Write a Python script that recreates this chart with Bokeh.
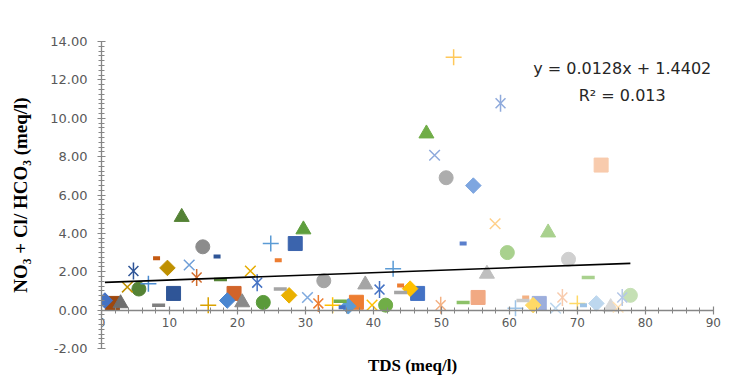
import numpy as np
from bokeh.plotting import figure
from bokeh.models import (ColumnDataSource, Label, Title, FixedTicker,
                          NumeralTickFormatter)
from bokeh.embed import file_html
from bokeh.resources import INLINE

# ---------------- data ----------------
tds = [0.5, 1.6, 2.8, 3.8, 4.7, 5.5, 6.9, 8.1, 8.4, 9.7,
       10.6, 11.8, 12.9, 14.0, 14.9, 15.7, 17.0, 17.5, 18.5, 19.5,
       20.7, 21.9, 22.9, 23.8, 24.9, 26.0, 26.3, 27.6, 28.5, 29.7,
       30.3, 31.9, 32.7, 34.0, 35.4, 35.1, 36.3, 37.5, 38.8, 39.8,
       40.9, 41.8, 42.9, 44.0, 44.0, 45.4, 46.5, 47.8, 49.0, 49.9,
       50.7, 51.8, 53.2, 53.2, 54.7, 55.4, 56.7, 57.9, 58.7, 59.7,
       60.9, 62.4, 62.0, 63.5, 64.4, 65.7, 66.8, 67.8, 68.7, 70.0,
       70.9, 71.6, 72.8, 73.5, 74.9, 76.0, 76.6, 77.8]
ratio = [0.5, 0.35, 0.35, 1.2, 2.04, 1.1, 1.38, 2.7, 0.26, 2.2,
         0.87, 4.85, 2.35, 1.7, 3.3, 0.26, 2.8, 1.6, 0.5, 0.87,
         0.4, 2.04, 1.43, 0.4, 3.47, 2.6, 1.1, 0.77, 3.47, 4.2,
         0.66, 0.35, 1.53, 0.26, 0.15, 0.46, 0.2, 0.41, 1.33, 0.26,
         1.07, 0.26, 2.15, 1.28, 0.92, 1.12, 0.87, 9.2, 8.07, 0.26,
         6.9, 13.18, 3.47, 0.4, 6.49, 0.66, 1.89, 4.5, 10.78, 3.0,
         0.1, 0.66, 0.5, 0.26, 0.35, 4.04, 0.1, 0.66, 2.65, 0.35,
         0.26, 1.7, 0.35, 7.56, 0.15, 0.15, 0.66, 0.77]

trend_slope = 0.0128
trend_intercept = 1.4402
equation_text = "y = 0.0128x + 1.4402"
r2_text = "R\u00b2 = 0.013"

x_ticks = [0, 10, 20, 30, 40, 50, 60, 70, 80, 90]
y_ticks = [-2, 0, 2, 4, 6, 8, 10, 12, 14]
x_title = "TDS (meq/l)"
y_title = "NO\u2083 + Cl/ HCO\u2083 (meq/l)"

# ---------------- styles ----------------
series_colors = [
    "#4472C4", "#9E480E", "#6E6E6E", "#BF9000", "#2F5597", "#548235",
    "#4A8AD0", "#C55A11", "#7F7F7F", "#BF9000", "#2F5597", "#548235",
    "#6F9FD8", "#D06B2C", "#8C8C8C", "#D9A200", "#2F5597", "#548235",
    "#4A86D0", "#D1642A", "#8A8A8A", "#E6AC00", "#4472C4", "#5A9A3A",
    "#5B9BD5", "#ED7D31", "#A5A5A5", "#EAB000", "#3B64AD", "#5E9E3D",
    "#7EA9DE", "#ED7D31", "#A5A5A5", "#FFC000", "#4472C4", "#70AD47",
    "#5B9BD5", "#ED7D31", "#A5A5A5", "#FFC000", "#4472C4", "#70AD47",
    "#5B9BD5", "#ED7D31", "#A5A5A5", "#FFC000", "#4472C4", "#70AD47",
    "#8FAADC", "#F4B183", "#ADADAD", "#FFC85A", "#5A7FCC", "#8CC168",
    "#7EA6E0", "#F1A983", "#BFBFBF", "#FFD08A", "#8FAADC", "#A9D18E",
    "#9DC3E6", "#F4B183", "#C9C9C9", "#FFD966", "#9DAEDC", "#A9D18E",
    "#BDD7EE", "#F8CBAD", "#D0D0D0", "#FFD966", "#9DC3E6", "#A9D18E",
    "#BDD7EE", "#F8CBAD", "#D9D9D9", "#FFE0B3", "#B4C7E7", "#C5E0B4",
]
marker_cycle = ["diamond", "square", "triangle", "x", "star", "circle",
                "plus", "shortdash", "longdash"]

AXIS = "#868686"
TICKTXT = "#595959"

p = figure(width=733, height=379, output_backend="svg", toolbar_location=None,
           x_range=(0, 91.5), y_range=(-2, 14), title=None,
           min_border_left=101, min_border_right=10, min_border_top=41,
           min_border_bottom=26)
p.outline_line_color = None
p.xgrid.visible = False
p.ygrid.visible = False
p.background_fill_color = "white"
p.border_fill_color = "white"

groups = {k: [] for k in marker_cycle}
for i in range(len(tds)):
    groups[marker_cycle[i % len(marker_cycle)]].append(i)

def src(kind):
    idx = groups[kind]
    return ColumnDataSource(dict(x=[tds[i] for i in idx], y=[ratio[i] for i in idx],
                                 c=[series_colors[i] for i in idx]))

p.scatter("x", "y", source=src("square"), marker="square", size=14,
          fill_color="c", line_color="c")
p.scatter("x", "y", source=src("diamond"), marker="square", angle=np.pi / 4,
          size=11, fill_color="c", line_color="c")
p.scatter("x", "y", source=src("triangle"), marker="triangle", size=15,
          fill_color="c", line_color="c")
p.scatter("x", "y", source=src("circle"), marker="circle", size=14,
          fill_color="c", line_color="c")
p.scatter("x", "y", source=src("x"), marker="x", size=15, line_color="c",
          line_width=1.5)
s_star = src("star")
p.scatter("x", "y", source=s_star, marker="x", size=14, line_color="c",
          line_width=1.5)
p.scatter("x", "y", source=s_star, marker="dash", angle=np.pi / 2, size=17,
          line_color="c", line_width=1.5)
p.scatter("x", "y", source=src("plus"), marker="cross", size=16, line_color="c",
          line_width=1.5)
p.scatter("x", "y", source=src("shortdash"), marker="dash", size=7,
          line_color="c", line_width=4)
p.scatter("x", "y", source=src("longdash"), marker="dash", size=13,
          line_color="c", line_width=3.5)

# trendline
tx = [min(tds), max(tds)]
ty = [trend_slope * v + trend_intercept for v in tx]
p.line(tx, ty, line_color="black", line_width=1.6)

# axes
xa = p.xaxis[0]
xa.fixed_location = 0
xa.bounds = (0, 90)
xa.ticker = FixedTicker(ticks=x_ticks, minor_ticks=list(np.arange(0, 90.01, 2)))
ya = p.yaxis[0]
ya.ticker = FixedTicker(ticks=y_ticks, minor_ticks=list(np.arange(-2, 14.01, 0.25)))
ya.formatter = NumeralTickFormatter(format="0.00")
for ax in (xa, ya):
    ax.axis_line_color = AXIS
    ax.axis_line_width = 1.3
    ax.major_tick_line_color = AXIS
    ax.minor_tick_line_color = AXIS
    ax.major_tick_line_width = 1.2
    ax.minor_tick_line_width = 1.0
    ax.major_tick_in = 4
    ax.major_tick_out = 4
    ax.minor_tick_in = 3
    ax.minor_tick_out = 3
    ax.major_label_text_font = "DejaVu Sans"
    ax.major_label_text_color = TICKTXT
xa.major_label_text_font_size = "12px"
ya.major_label_text_font_size = "13px"
xa.major_label_standoff = 4
ya.major_label_standoff = 10
ya.axis_label = y_title
ya.axis_label_text_font = "Liberation Serif"
ya.axis_label_text_font_size = "19px"
ya.axis_label_text_font_style = "bold"
ya.axis_label_text_color = "black"
ya.axis_label_standoff = 16

p.add_layout(Title(text=x_title, align="center", text_font="Liberation Serif",
                   text_font_size="17px", text_font_style="bold",
                   text_color="black"), "below")

p.add_layout(Label(x=76.6, y=12.6, text=equation_text, text_align="center",
                   text_baseline="middle", text_font="DejaVu Sans",
                   text_font_size="16px", text_color="#262626"))
p.add_layout(Label(x=76.6, y=11.2, text=r2_text, text_align="center",
                   text_baseline="middle", text_font="DejaVu Sans",
                   text_font_size="16px", text_color="#262626"))

# rounded chart-area border: a box centred inside the frame, padded out
p.add_layout(Label(x=270.5, y=162, x_units="screen", y_units="screen", text=" ",
                   anchor="center", text_font_size="1px",
                   padding=(359, 359, 185, 185),
                   border_radius=14,
                   border_line_color="#CFCFCF", border_line_width=1.2,
                   background_fill_color=None))

open("out.html", "w").write(file_html(p, INLINE))
